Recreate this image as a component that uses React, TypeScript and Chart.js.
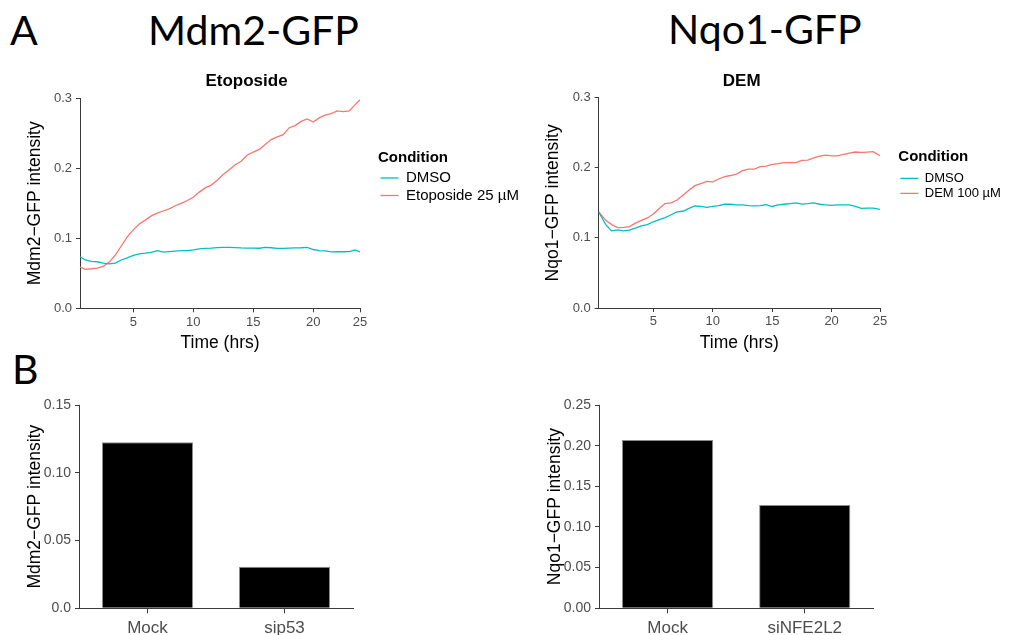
import React, { useEffect, useRef } from 'react';
import { Chart, registerables } from 'chart.js';

Chart.register(...registerables);

const SANS = '"Liberation Sans", Arial, Helvetica, sans-serif';
const HEAD = 'Lato, "Open Sans", sans-serif';
const TEAL = '#00BFC4';
const SALMON = '#F8766D';
const AXIS = '#3a3a3a';
const TICK_TEXT = '#4D4D4D';

// ---------- Panel A, left: Mdm2-GFP / Etoposide ----------
const ETO_TIME = [0.56, 1, 1.5, 2, 2.5, 3, 3.5, 4, 4.5, 5, 5.5, 6, 6.5, 7, 7.5, 8, 8.5, 9, 9.5, 10,
  10.5, 11, 11.5, 12, 12.5, 13, 13.5, 14, 14.5, 15, 15.5, 16, 16.5, 17, 17.5, 18, 18.5, 19, 19.5, 20,
  20.5, 21, 21.5, 22, 22.5, 23, 23.5, 23.9];
const ETO_DMSO = [0.0737, 0.069, 0.067, 0.0665, 0.0645, 0.0635, 0.0645, 0.069, 0.072, 0.0755,
  0.0778, 0.0787, 0.080, 0.0825, 0.0803, 0.081, 0.0818, 0.0823, 0.0823, 0.0835,
  0.085, 0.0857, 0.086, 0.0868, 0.087, 0.087, 0.0868, 0.0863, 0.086, 0.086,
  0.0858, 0.0871, 0.0865, 0.0855, 0.0855, 0.086, 0.0862, 0.0865, 0.087, 0.084,
  0.0823, 0.082, 0.0807, 0.0808, 0.0808, 0.081, 0.0835, 0.0805];
const ETO_TREAT = [0.059, 0.0557, 0.0565, 0.0575, 0.060, 0.066, 0.076, 0.089, 0.102, 0.112,
  0.1205, 0.126, 0.132, 0.136, 0.139, 0.142, 0.1465, 0.150, 0.154, 0.1586,
  0.166, 0.172, 0.176, 0.183, 0.191, 0.198, 0.205, 0.210, 0.219, 0.223,
  0.227, 0.234, 0.241, 0.245, 0.248, 0.258, 0.261, 0.267, 0.2705, 0.266,
  0.272, 0.276, 0.278, 0.282, 0.281, 0.282, 0.291, 0.298];
const ETO_X_TICKS = [5, 10, 15, 20, 23.9];
const ETO_Y_TICKS = [0, 0.1, 0.2, 0.3];

// ---------- Panel A, right: Nqo1-GFP / DEM ----------
const DEM_TIME = [0.41, 1, 1.5, 2, 2.5, 3, 3.5, 4, 4.5, 5, 5.5, 6, 6.5, 7, 7.5, 8, 8.5, 9, 9.5, 10,
  10.5, 11, 11.5, 12, 12.5, 13, 13.5, 14, 14.5, 15, 15.5, 16, 16.5, 17, 17.5, 18, 18.5, 19, 19.5, 20,
  20.5, 21, 21.5, 22, 22.5, 23, 23.5, 24.07];
const DEM_DMSO = [0.137, 0.119, 0.110, 0.1113, 0.110, 0.111, 0.114, 0.117, 0.119, 0.123,
  0.126, 0.129, 0.133, 0.137, 0.138, 0.142, 0.1455, 0.145, 0.1435, 0.145,
  0.146, 0.148, 0.148, 0.147, 0.147, 0.146, 0.1457, 0.146, 0.1475, 0.1448,
  0.147, 0.148, 0.149, 0.150, 0.1482, 0.149, 0.150, 0.148, 0.147, 0.1465,
  0.147, 0.147, 0.147, 0.145, 0.1422, 0.1425, 0.1426, 0.1408];
const DEM_TREAT = [0.137, 0.125, 0.119, 0.1146, 0.115, 0.116, 0.121, 0.125, 0.1285, 0.134,
  0.142, 0.149, 0.150, 0.154, 0.161, 0.168, 0.1745, 0.1775, 0.1805, 0.180,
  0.184, 0.1875, 0.189, 0.191, 0.196, 0.198, 0.198, 0.2016, 0.2025, 0.205,
  0.206, 0.2073, 0.2073, 0.2073, 0.2105, 0.211, 0.214, 0.2165, 0.218, 0.217,
  0.217, 0.219, 0.221, 0.2225, 0.222, 0.2225, 0.223, 0.2173];
const DEM_X_TICKS = [5, 10, 15, 20, 24.07];
const DEM_Y_TICKS = [0, 0.1, 0.2, 0.3];

const X_TICK_LABELS = ['5', '10', '15', '20', '25'];
const LINE_Y_TICK_LABELS = ['0.0', '0.1', '0.2', '0.3'];

// ---------- Panel B ----------
const MDM2_CATS = ['Mock', 'sip53'];
const MDM2_VALUES = [0.1225, 0.0307];
const MDM2_Y_TICKS = [0, 0.05, 0.1, 0.15];
const MDM2_Y_LABELS = ['0.0', '0.05', '0.10', '0.15'];

const NQO1_CATS = ['Mock', 'siNFE2L2'];
const NQO1_VALUES = [0.207, 0.127];
const NQO1_Y_TICKS = [0, 0.05, 0.1, 0.15, 0.2, 0.25];
const NQO1_Y_LABELS = ['0.00', '0.05', '0.10', '0.15', '0.20', '0.25'];

const axisGrid = { display: true, drawOnChartArea: false, drawTicks: true, tickLength: 4, color: AXIS, lineWidth: 1 };
const axisBorder = { display: true, color: AXIS, width: 1 };

function lineConfig(o: any): any {
  const pts = (ys: number[]) => o.time.map((t: number, i: number) => ({ x: t, y: ys[i] }));
  return {
    type: 'line',
    data: {
      datasets: [
        { label: 'DMSO', data: pts(o.dmso), borderColor: TEAL, backgroundColor: TEAL, borderWidth: 1.3, pointRadius: 0, tension: 0 },
        { label: o.treatLabel, data: pts(o.treat), borderColor: SALMON, backgroundColor: SALMON, borderWidth: 1.3, pointRadius: 0, tension: 0 },
      ],
    },
    options: {
      animation: false,
      responsive: false,
      events: [],
      layout: { padding: { left: 0, top: 0, right: o.padRight, bottom: 0 } },
      plugins: {
        tooltip: { enabled: false },
        title: {
          display: true, text: o.title, color: '#000',
          font: { family: SANS, size: 17, weight: 'bold' },
          padding: { top: o.titleTop, bottom: o.titleBottom },
        },
        legend: {
          position: 'right', align: 'start', maxWidth: o.legendW,
          title: {
            display: true, text: 'Condition', position: 'start', color: '#000',
            font: { family: SANS, size: 15, weight: 'bold' },
            padding: { top: o.legTitleTop, bottom: o.legTitleBottom },
          },
          labels: {
            usePointStyle: true, pointStyle: 'line', pointStyleWidth: 18,
            padding: o.legPad, color: '#000', font: { family: SANS, size: o.legFont },
          },
        },
      },
      scales: {
        x: {
          type: 'linear', min: o.time[0], max: o.time[o.time.length - 1],
          afterBuildTicks: (s: any) => { s.ticks = o.xTicks.map((v: number) => ({ value: v })); },
          afterFit: (s: any) => { s.height = o.xAxisH; },
          ticks: { autoSkip: false, maxRotation: 0, padding: 2, color: TICK_TEXT, font: { family: SANS, size: 13 },
            callback: (_v: any, i: number) => X_TICK_LABELS[i] },
          grid: axisGrid, border: axisBorder,
          title: { display: true, text: 'Time (hrs)', color: '#000', font: { family: SANS, size: 17.5 }, padding: { top: 0, bottom: 6.5 } },
        },
        y: {
          type: 'linear', min: 0, max: 0.3,
          afterBuildTicks: (s: any) => { s.ticks = o.yTicks.map((v: number) => ({ value: v })); },
          afterFit: (s: any) => { s.width = o.yAxisW; },
          ticks: { padding: 4, color: TICK_TEXT, font: { family: SANS, size: 13 },
            callback: (_v: any, i: number) => LINE_Y_TICK_LABELS[i] },
          grid: axisGrid, border: axisBorder,
          title: { display: true, text: o.yTitle, color: '#000', font: { family: SANS, size: 17.5 }, padding: { top: o.yTitlePad, bottom: 0 } },
        },
        gap: {
          type: 'linear', position: 'right', display: true,
          afterFit: (s: any) => { s.width = o.gapW; },
          ticks: { display: false }, grid: { display: false }, border: { display: false },
        },
      },
    },
  };
}

function barConfig(o: any): any {
  return {
    type: 'bar',
    data: {
      labels: o.cats,
      datasets: [{ data: o.values, backgroundColor: '#000', borderColor: '#8c8c8c', borderWidth: 1,
        barPercentage: 0.665, categoryPercentage: 1 }],
    },
    options: {
      animation: false,
      responsive: false,
      events: [],
      layout: { padding: { left: 0, top: 25, right: o.padRight, bottom: 0 } },
      plugins: { legend: { display: false }, tooltip: { enabled: false }, title: { display: false } },
      scales: {
        x: {
          type: 'category', offset: true,
          afterFit: (s: any) => { s.height = 26.7; },
          ticks: { padding: 5, color: TICK_TEXT, font: { family: SANS, size: 17 }, maxRotation: 0 },
          grid: { ...axisGrid, offset: false, tickLength: 5 }, border: axisBorder,
        },
        y: {
          type: 'linear', min: 0, max: o.yTicks[o.yTicks.length - 1],
          afterBuildTicks: (s: any) => { s.ticks = o.yTicks.map((v: number) => ({ value: v })); },
          afterFit: (s: any) => { s.width = 79; },
          ticks: { padding: 4, color: TICK_TEXT, font: { family: SANS, size: 14 },
            callback: (_v: any, i: number) => o.yLabels[i] },
          grid: axisGrid, border: axisBorder,
          title: { display: true, text: o.yTitle, color: '#000', font: { family: SANS, size: 17.5 }, padding: { top: 24.5, bottom: 0 } },
        },
      },
    },
  };
}

function ChartCanvas(props: { left: number; top: number; width: number; height: number; make: () => any }) {
  const ref = useRef<HTMLCanvasElement | null>(null);
  useEffect(() => {
    const chart = new Chart(ref.current as HTMLCanvasElement, props.make());
    return () => chart.destroy();
  }, []);
  const { left, top, width, height } = props;
  return (
    <canvas ref={ref} width={width} height={height}
      style={{ position: 'absolute', left, top, width, height, display: 'block' }} />
  );
}

function Heading(props: { text: string; left: number; top: number }) {
  return (
    <div style={{ position: 'absolute', left: props.left, top: props.top, fontFamily: HEAD, fontSize: 41,
      lineHeight: '41px', color: '#000', whiteSpace: 'nowrap' }}>{props.text}</div>
  );
}

export default function App() {
  return (
    <div style={{ position: 'absolute', left: 0, top: 0, width: 1009, height: 635, background: '#fff', overflow: 'hidden' }}>
      <Heading text="A" left={10} top={9} />
      <Heading text="Mdm2-GFP" left={148} top={9} />
      <Heading text="Nqo1-GFP" left={668} top={8} />
      <Heading text="B" left={12} top={348} />
      <ChartCanvas left={-30} top={60} width={553} height={300} make={() => lineConfig({
        time: ETO_TIME, dmso: ETO_DMSO, treat: ETO_TREAT, treatLabel: 'Etoposide 25 µM', title: 'Etoposide',
        xTicks: ETO_X_TICKS, yTicks: ETO_Y_TICKS, yTitle: 'Mdm2−GFP intensity',
        yAxisW: 110, yTitlePad: 54.5, xAxisH: 51.7, titleTop: 10.8, titleBottom: 7.1,
        gapW: 18, legendW: 145, padRight: 0,
        legTitleTop: 90, legTitleBottom: 0, legPad: 2.5, legFont: 15,
      })} />
      <ChartCanvas left={479} top={60} width={526} height={300} make={() => lineConfig({
        time: DEM_TIME, dmso: DEM_DMSO, treat: DEM_TREAT, treatLabel: 'DEM 100 µM', title: 'DEM',
        xTicks: DEM_X_TICKS, yTicks: DEM_Y_TICKS, yTitle: 'Nqo1−GFP intensity',
        yAxisW: 119.7, yTitlePad: 63.5, xAxisH: 52, titleTop: 10.8, titleBottom: 6.5,
        gapW: 18.3, legendW: 106, padRight: 0.7,
        legTitleTop: 89.8, legTitleBottom: 2, legPad: 2, legFont: 13,
      })} />
      <ChartCanvas left={0} top={380} width={380} height={255} make={() => barConfig({
        cats: MDM2_CATS, values: MDM2_VALUES, yTicks: MDM2_Y_TICKS, yLabels: MDM2_Y_LABELS,
        yTitle: 'Mdm2−GFP intensity', padRight: 27,
      })} />
      <ChartCanvas left={520} top={380} width={380} height={255} make={() => barConfig({
        cats: NQO1_CATS, values: NQO1_VALUES, yTicks: NQO1_Y_TICKS, yLabels: NQO1_Y_LABELS,
        yTitle: 'Nqo1−GFP intensity', padRight: 26.7,
      })} />
    </div>
  );
}
